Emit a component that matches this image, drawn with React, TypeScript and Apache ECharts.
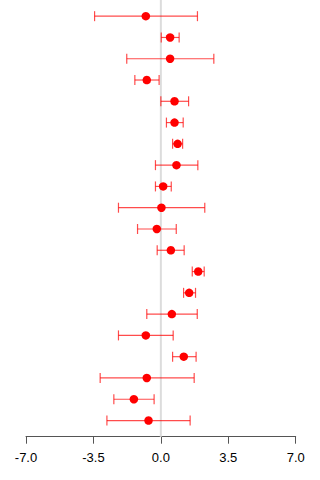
import React, { useEffect, useRef } from "react";
import * as echarts from "echarts";

// Rows listed top to bottom
const estimates = [-0.78, 0.48, 0.48, -0.73, 0.71, 0.71, 0.87, 0.81, 0.12, 0.03, -0.21, 0.52, 1.94, 1.47, 0.57, -0.78, 1.19, -0.73, -1.4, -0.64];
const lower = [-3.44, 0.02, -1.77, -1.35, 0.0, 0.29, 0.61, -0.28, -0.28, -2.2, -1.21, -0.19, 1.63, 1.18, -0.73, -2.2, 0.61, -3.15, -2.44, -2.8];
const upper = [1.9, 0.95, 2.75, -0.09, 1.44, 1.16, 1.13, 1.92, 0.54, 2.28, 0.8, 1.21, 2.25, 1.8, 1.89, 0.64, 1.83, 1.73, -0.35, 1.52];
const xTicks = [-7, -3.5, 0, 3.5, 7];

export default function App() {
  const ref = useRef<HTMLDivElement>(null);

  useEffect(() => {
    if (!ref.current) return;
    const chart = echarts.init(ref.current, null, { renderer: "svg" });
    const n = estimates.length;
    const rowY = (i: number) => n - i;
    const points = estimates.map((v, i) => [v, rowY(i)]);
    const bars = estimates.map((_, i) => [lower[i], upper[i], rowY(i)]);

    chart.setOption({
      animation: false,
      grid: { left: 26, right: 24.3, top: 0, bottom: 43.3, containLabel: false },
      xAxis: {
        type: "value",
        min: -7,
        max: 7,
        interval: 3.5,
        axisLine: { show: true, onZero: false, lineStyle: { color: "#555", width: 1 } },
        axisTick: { show: true, length: 7, lineStyle: { color: "#555" } },
        splitLine: { show: false },
        axisLabel: {
          margin: 14.5,
          color: "#000",
          fontSize: 13,
          fontFamily: "Liberation Sans, Arial, sans-serif",
          formatter: (v: number) => (xTicks.includes(v) ? v.toFixed(1) : ""),
        },
      },
      yAxis: {
        type: "value",
        min: 0.24,
        max: 20.76,
        show: false,
      },
      series: [
        {
          type: "custom",
          data: [[0]],
          renderItem: (params: any, api: any) => {
            const top = api.coord([0, 20.76]);
            const bottom = api.coord([0, 0.24]);
            return {
              type: "line",
              shape: { x1: top[0], y1: top[1], x2: bottom[0], y2: bottom[1] },
              style: { stroke: "#dcdcdc", lineWidth: 2 },
            };
          },
          silent: true,
          z: 1,
        },
        {
          type: "custom",
          data: bars,
          encode: { x: [0, 1], y: 2 },
          renderItem: (params: any, api: any) => {
            const lo = api.coord([api.value(0), api.value(2)]);
            const hi = api.coord([api.value(1), api.value(2)]);
            const cap = 5;
            const style = { stroke: "rgba(255,0,0,0.7)", lineWidth: 1.2 };
            return {
              type: "group",
              children: [
                { type: "line", shape: { x1: lo[0], y1: lo[1], x2: hi[0], y2: hi[1] }, style },
                { type: "line", shape: { x1: lo[0], y1: lo[1] - cap, x2: lo[0], y2: lo[1] + cap }, style },
                { type: "line", shape: { x1: hi[0], y1: hi[1] - cap, x2: hi[0], y2: hi[1] + cap }, style },
              ],
            };
          },
          silent: true,
          z: 2,
        },
        {
          type: "scatter",
          data: points,
          symbol: "circle",
          symbolSize: 8.5,
          itemStyle: { color: "#ff0000", opacity: 1 },
          silent: true,
          z: 3,
        },
      ],
    });
    return () => chart.dispose();
  }, []);

  return <div ref={ref} style={{ width: 320, height: 480, position: "absolute", left: 0, top: 0 }} />;
}
